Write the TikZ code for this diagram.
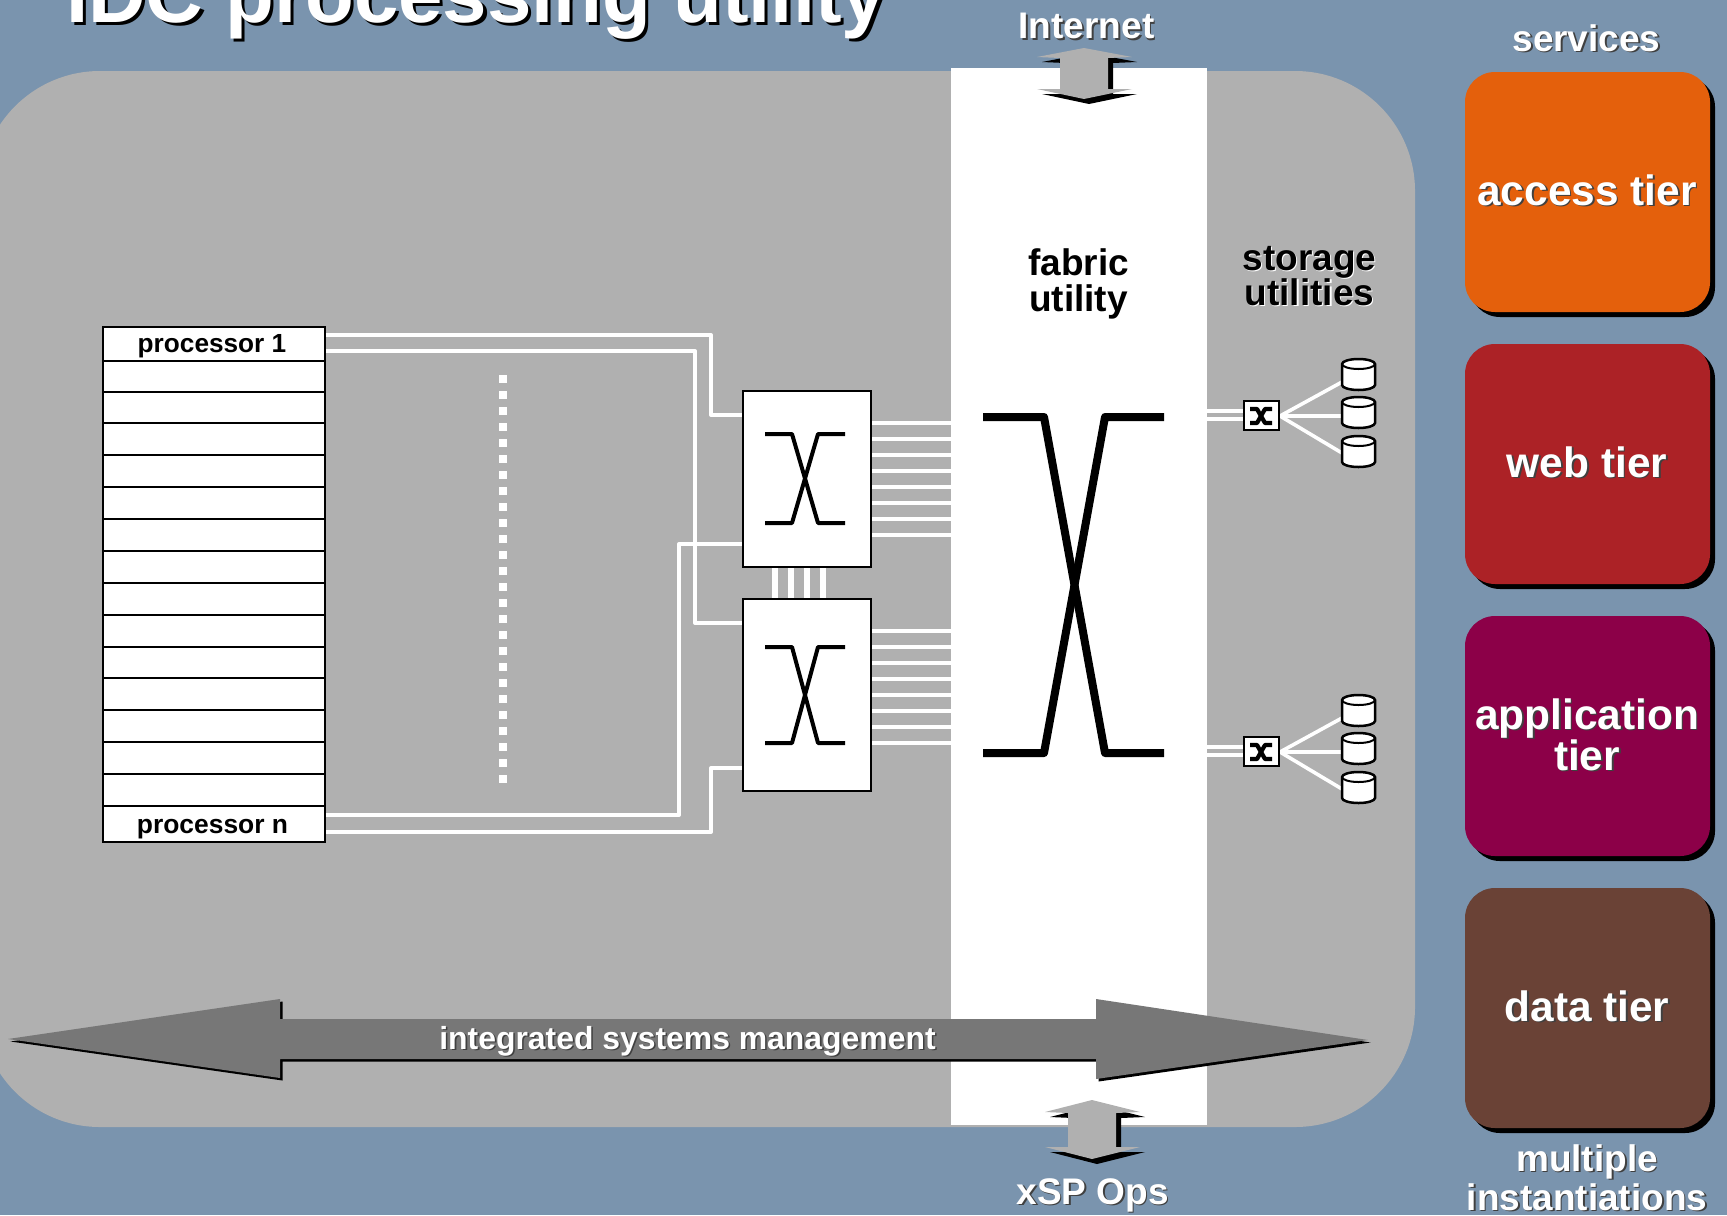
\documentclass[tikz,border=0pt]{standalone}
\usepackage{fontspec}
\setmainfont{Liberation Sans}[BoldFont={Liberation Sans Bold}]
\definecolor{bgblue}{HTML}{7A94AE}
\definecolor{panelgrey}{HTML}{B0B0B0}
\definecolor{arrowgrey}{HTML}{777777}
\definecolor{tierorange}{HTML}{E4600C}
\definecolor{tierred}{HTML}{AC2226}
\definecolor{tiermagenta}{HTML}{8C0048}
\definecolor{tierbrown}{HTML}{6A4236}
\newcommand{\pxfont}[1]{\fontsize{#1}{#1}\selectfont\bfseries}
% text with a drop shadow: #1 colour of shadow, #2 offset (pt), #3 text
\newcommand{\shad}[3]{\leavevmode\rlap{\kern#2\raisebox{-#2}{\textcolor{#1}{#3}}}#3}
\tikzset{
  x=0.5pt,y=-0.5pt,
  wire/.style={draw=white,line width=2pt,line join=round},
  boxed/.style={draw=black,fill=white,line width=1.4pt},
  xover/.style={draw=black,line width=2pt,line join=round},
  lbl/.style={anchor=base,inner sep=0pt,outer sep=0pt,align=center,text=white},
  blbl/.style={anchor=base,inner sep=0pt,outer sep=0pt,align=center,text=black},
  disc/.style={draw=black,fill=white,line width=1.25pt},
}
% #1 x, #2 y, #3 upper wing, #4 lower wing, #5 lower tip (all in px)
\newcommand{\dbarrow}[5]{%
  \begin{scope}[shift={(#1,#2)}]
  \fill[black,shift={(5,5)}] (47,0)--(95,#3)--(71,#3+1)--(71,#4)--(95,#4)--(47,#5)--(0,#4)--(23,#4)--(23,#3+1)--(0,#3)--cycle;
  \fill[panelgrey] (47,0)--(95,#3)--(71,#3+1)--(71,#4)--(95,#4)--(47,#5)--(0,#4)--(23,#4)--(23,#3+1)--(0,#3)--cycle;
  \end{scope}}
\newcommand{\discs}[1]{%
  \begin{scope}[shift={(0,#1)}]
  \foreach \yy in {359,397,436}{
    \path[disc] (1342,\yy+5) -- (1342,\yy+26) arc[start angle=180,end angle=0,x radius=16.5,y radius=5] -- (1375,\yy+5) arc[start angle=0,end angle=-180,x radius=16.5,y radius=5] -- cycle;
    \draw[black,line width=1pt] (1342,\yy+5) arc[start angle=180,end angle=0,x radius=16.5,y radius=5];
  }
  \end{scope}}
\begin{document}
\begin{tikzpicture}
\useasboundingbox (0,0) rectangle (1727,1215);
\fill[bgblue] (0,0) rectangle (1727,1215);
% panel
\begin{scope}
\clip (0,0) rectangle (1727,1215);
\fill[panelgrey,rounded corners=60pt] (-20,71) rectangle (1415,1127);
\end{scope}
\fill[white] (951,68) rectangle (1207,1125);
% title
\node[lbl,anchor=base west] (title) at (66,22) {\pxfont{39.9}\shad{black}{1.6pt}{IDC processing utility}};
% wires from processors
\coordinate (p1a) at (325,335); \coordinate (p1b) at (325,351);
\coordinate (pna) at (325,815); \coordinate (pnb) at (325,832);
\draw[wire] (p1a) -- (711,335) -- (711,415) -- (743,415);
\draw[wire] (p1b) -- (695,351) -- (695,623) -- (743,623);
\draw[wire] (pna) -- (679,815) -- (679,544) -- (743,544);
\draw[wire] (pnb) -- (711,832) -- (711,768) -- (743,768);
% links between switches and fabric
\foreach \yy in {423,439,455,471,487,503,519,535}{\draw[wire] (871,\yy) -- (951,\yy);}
\foreach \yy in {631,647,663,679,695,711,727,743}{\draw[wire] (871,\yy) -- (951,\yy);}
\foreach \xx in {775,791,807,823}{\draw[draw=white,line width=3pt] (\xx,567) -- (\xx,599);}
% dotted line
\draw[white,line width=4pt,dash pattern=on 4pt off 4pt] (503,375) -- (503,783);
% processors
\foreach \a/\b in {327/361,361/392,392/423,423/455,455/487,487/519,519/551,551/583,583/615,615/647,647/678,678/710,710/742,742/774,774/806,806/842}{
  \draw[boxed] (103,\a) rectangle (325,\b);}
\node[blbl] (p1) at (212,352) {\pxfont{13.1}processor 1};
\node[blbl] (pn) at (212.5,833) {\pxfont{13.2}processor n};
% switches
\draw[boxed] (743,391) rectangle (871,567);
\draw[boxed] (743,599) rectangle (871,791);
\draw[xover] (765,434)--(792,434)--(818,523)--(845,523);
\draw[xover] (765,523)--(792,523)--(818,434)--(845,434);
\draw[xover] (765,647)--(792,647)--(818,743)--(845,743);
\draw[xover] (765,743)--(792,743)--(818,647)--(845,647);
% big crossbar
\draw[black,line width=4pt,line join=round] (983,417)--(1044,417)--(1105,753)--(1164,753);
\draw[black,line width=4pt,line join=round] (983,753)--(1044,753)--(1105,417)--(1164,417);
% storage
\foreach \dy in {0,336}{
  \begin{scope}[shift={(0,\dy)}]
  \draw[wire,line width=1.6pt] (1207,411) -- (1244,411);
  \draw[wire,line width=1.6pt] (1207,419) -- (1244,419);
  \draw[wire,line width=1.8pt] (1280,416) -- (1342,382);
  \draw[wire,line width=1.8pt] (1280,416) -- (1342,416);
  \draw[wire,line width=1.8pt] (1280,416) -- (1342,453);
  \draw[boxed,line width=1pt] (1244,401) rectangle (1279,430);
  \draw[black,line width=2.1pt,line join=round] (1250,409)--(1257,409)--(1265,423)--(1272,423);
  \draw[black,line width=2.1pt,line join=round] (1250,423)--(1257,423)--(1265,409)--(1272,409);
  \end{scope}}
\discs{0}
\discs{336}
% big arrow
\fill[black,shift={(2.5,2.5)}] (8,1039)--(280,999)--(280,1019)--(1096,1019)--(1096,999)--(1368,1040)--(1096,1079)--(1096,1059)--(280,1059)--(280,1078)--cycle;
\fill[arrowgrey] (8,1039)--(280,999)--(280,1019)--(1096,1019)--(1096,999)--(1368,1040)--(1096,1079)--(1096,1059)--(280,1059)--(280,1078)--cycle;
\node[lbl] (ism) at (687.5,1049) {\pxfont{15.95}\shad{black!75}{0.8pt}{integrated systems management}};
% small arrows
\dbarrow{1037}{48}{9}{41}{51}
\dbarrow{1045}{1100}{12}{47}{59}
\node[lbl] (inet) at (1086.5,39) {\pxfont{18.5}\shad{black!75}{0.8pt}{Internet}};
\node[lbl] (xsp) at (1092.5,1204) {\pxfont{18.5}\shad{black!75}{0.8pt}{xSP Ops}};
\node[blbl] (fab1) at (1078.5,275) {\pxfont{18.5}fabric};
\node[blbl] (fab2) at (1078.5,311) {\pxfont{18.5}utility};
\node[blbl] (sto1) at (1309.5,270) {\pxfont{18.5}\shad{white}{0.6pt}{storage}};
\node[blbl] (sto2) at (1309.5,305) {\pxfont{18.5}\shad{white}{0.6pt}{utilities}};
% tiers
\foreach \t/\b/\c in {72/312/tierorange,344/584/tierred,616/856/tiermagenta,888/1128/tierbrown}{
  \fill[black,rounded corners=15pt] (1470,\t+5) rectangle (1715,\b+5);
  \fill[\c,rounded corners=15pt] (1465,\t) rectangle (1710,\b);
}
\node[lbl] (svc) at (1586.5,51) {\pxfont{18.5}\shad{black!75}{0.8pt}{services}};
\node[lbl] (t1) at (1587,205) {\pxfont{21.2}\shad{black!75}{0.8pt}{access tier}};
\node[lbl] (t2) at (1587,477) {\pxfont{21.2}\shad{black!75}{0.8pt}{web tier}};
\node[lbl] (t3a) at (1587,729) {\pxfont{21.2}\shad{black!75}{0.8pt}{application}};
\node[lbl] (t3b) at (1587,770) {\pxfont{21.2}\shad{black!75}{0.8pt}{tier}};
\node[lbl] (t4) at (1587,1021) {\pxfont{21.2}\shad{black!75}{0.8pt}{data tier}};
\node[lbl] (m1) at (1587,1171) {\pxfont{18.5}\shad{black!75}{0.8pt}{multiple}};
\node[lbl] (m2) at (1587,1210) {\pxfont{18.5}\shad{black!75}{0.8pt}{instantiations}};
\end{tikzpicture}
\end{document}
